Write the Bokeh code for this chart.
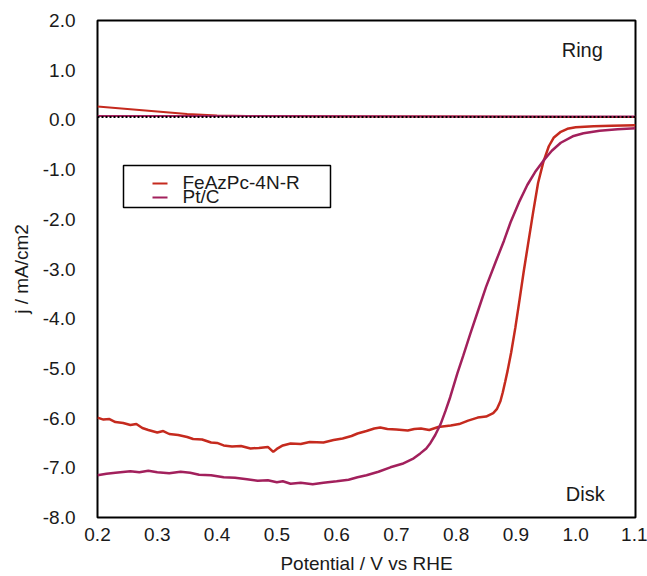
from bokeh.plotting import figure
from bokeh.models import (Range1d, FixedTicker, NumeralTickFormatter, Label, Span,
                          BoxAnnotation)
from bokeh.embed import file_html
from bokeh.resources import INLINE

# Rotating ring-disk voltammetry: disk current and ring current vs potential
fe_disk_v = [0.200, 0.210, 0.220, 0.230, 0.243, 0.255, 0.265, 0.275, 0.285, 0.300,
             0.310, 0.320, 0.335, 0.350, 0.360, 0.375, 0.390, 0.400, 0.411, 0.425,
             0.440, 0.456, 0.470, 0.485, 0.494, 0.500, 0.510, 0.523, 0.540, 0.555,
             0.578, 0.595, 0.610, 0.625, 0.635, 0.650, 0.663, 0.673, 0.685, 0.700,
             0.719, 0.730, 0.741, 0.755, 0.770, 0.791, 0.805, 0.820, 0.836, 0.850,
             0.862, 0.868, 0.874, 0.878, 0.882, 0.886, 0.892, 0.899, 0.906, 0.913,
             0.920, 0.929, 0.937, 0.946, 0.955, 0.963, 0.975, 0.986, 1.000, 1.030,
             1.060, 1.100]
fe_disk_j = [-5.99, -6.03, -6.02, -6.08, -6.10, -6.14, -6.12, -6.20, -6.24, -6.29,
             -6.26, -6.32, -6.34, -6.38, -6.42, -6.43, -6.49, -6.50, -6.55, -6.57,
             -6.56, -6.61, -6.60, -6.58, -6.68, -6.62, -6.55, -6.51, -6.52, -6.48,
             -6.49, -6.44, -6.41, -6.36, -6.31, -6.26, -6.21, -6.19, -6.22, -6.23,
             -6.25, -6.22, -6.21, -6.24, -6.18, -6.15, -6.12, -6.05, -5.99, -5.97,
             -5.90, -5.82, -5.66, -5.48, -5.27, -5.05, -4.68, -4.18, -3.62, -3.05,
             -2.52, -1.84, -1.27, -0.84, -0.53, -0.36, -0.24, -0.18, -0.15, -0.13,
             -0.12, -0.11]

pt_disk_v = [0.200, 0.215, 0.230, 0.255, 0.270, 0.285, 0.300, 0.320, 0.339, 0.355,
             0.370, 0.390, 0.411, 0.430, 0.450, 0.468, 0.485, 0.500, 0.510, 0.523,
             0.540, 0.560, 0.578, 0.600, 0.620, 0.635, 0.650, 0.670, 0.690, 0.710,
             0.729, 0.740, 0.750, 0.757, 0.765, 0.774, 0.782, 0.790, 0.802, 0.812,
             0.824, 0.836, 0.850, 0.866, 0.880, 0.891, 0.905, 0.919, 0.932, 0.946,
             0.960, 0.975, 0.995, 1.013, 1.040, 1.070, 1.100]
pt_disk_j = [-7.15, -7.12, -7.10, -7.07, -7.09, -7.06, -7.09, -7.11, -7.08, -7.10,
             -7.14, -7.15, -7.19, -7.20, -7.23, -7.26, -7.25, -7.29, -7.27, -7.32,
             -7.30, -7.33, -7.30, -7.27, -7.24, -7.19, -7.15, -7.08, -6.99, -6.92,
             -6.81, -6.71, -6.61, -6.50, -6.34, -6.12, -5.86, -5.58, -5.10, -4.74,
             -4.29, -3.86, -3.36, -2.86, -2.43, -2.06, -1.66, -1.31, -1.05, -0.82,
             -0.62, -0.46, -0.33, -0.27, -0.22, -0.19, -0.17]

fe_ring_v = [0.20, 0.25, 0.30, 0.35, 0.40, 0.45, 0.60, 0.80, 1.00, 1.10]
fe_ring_j = [0.27, 0.22, 0.17, 0.12, 0.09, 0.08, 0.07, 0.07, 0.06, 0.06]

pt_ring_v = [0.20, 0.50, 0.80, 1.10]
pt_ring_j = [0.08, 0.08, 0.07, 0.07]

baseline_j = 0.06

x_ticks = [0.2, 0.3, 0.4, 0.5, 0.6, 0.7, 0.8, 0.9, 1.0, 1.1]
y_ticks = [2, 1, 0, -1, -2, -3, -4, -5, -6, -7, -8]

series_names = ["FeAzPc-4N-R", "Pt/C"]

FE_COLOR = "#c52a1e"
PT_COLOR = "#a2205c"
FONT = "Liberation Sans"
TEXT = "#1a1a1a"

p = figure(width=647, height=576, output_backend="svg", toolbar_location=None,
           x_range=Range1d(0.2, 1.1), y_range=Range1d(-8, 2),
           min_border_left=97, min_border_right=12, min_border_top=20, min_border_bottom=59)

p.background_fill_color = "white"
p.border_fill_color = "white"
p.outline_line_color = "black"
p.outline_line_width = 2
p.xgrid.visible = False
p.ygrid.visible = False

for ax in (p.xaxis, p.yaxis):
    ax.axis_line_color = None
    ax.major_tick_line_color = None
    ax.minor_tick_line_color = None
    ax.major_tick_out = 0
    ax.major_tick_in = 0
    ax.minor_tick_out = 0
    ax.minor_tick_in = 0
    ax.major_label_text_font = FONT
    ax.major_label_text_font_size = "19px"
    ax.major_label_text_color = TEXT
    ax.axis_label_text_font = FONT
    ax.axis_label_text_font_size = "19px"
    ax.axis_label_text_font_style = "normal"
    ax.axis_label_text_color = TEXT
    ax.formatter = NumeralTickFormatter(format="0.0")

p.xaxis.ticker = FixedTicker(ticks=x_ticks)
p.yaxis.ticker = FixedTicker(ticks=y_ticks)
p.xaxis.major_label_standoff = 10
p.yaxis.major_label_standoff = 22
p.xaxis.axis_label = "Potential / V vs RHE"
p.yaxis.axis_label = "j / mA/cm2"
p.xaxis.axis_label_standoff = 9
p.yaxis.axis_label_standoff = 8

# ring currents
p.line(fe_ring_v, fe_ring_j, line_color=FE_COLOR, line_width=2)
p.line(pt_ring_v, pt_ring_j, line_color=PT_COLOR, line_width=2)
p.add_layout(Span(location=baseline_j, dimension="width", line_color="black",
                  line_width=2, line_dash="2 2"))

# disk currents
p.line(fe_disk_v, fe_disk_j, line_color=FE_COLOR, line_width=2.5)
p.line(pt_disk_v, pt_disk_j, line_color=PT_COLOR, line_width=2.5)

p.add_layout(Label(x=1.011, y=1.40, text="Ring", text_align="center", text_baseline="middle",
                   text_font=FONT, text_font_size="20px", text_color=TEXT))
p.add_layout(Label(x=1.016, y=-7.52, text="Disk", text_align="center", text_baseline="middle",
                   text_font=FONT, text_font_size="20px", text_color=TEXT))

# legend box, drawn in frame pixels (origin at the frame's lower-left corner)
p.add_layout(BoxAnnotation(left=26, right=233, bottom=310, top=352,
                           left_units="screen", right_units="screen",
                           bottom_units="screen", top_units="screen",
                           fill_color="white", fill_alpha=1,
                           line_color="black", line_width=1.5, line_alpha=1))
for row, (name, color) in enumerate(zip(series_names, [FE_COLOR, PT_COLOR])):
    yc = 334 - 14 * row
    p.add_layout(BoxAnnotation(left=55, right=70, bottom=yc - 1, top=yc + 1,
                               left_units="screen", right_units="screen",
                               bottom_units="screen", top_units="screen",
                               fill_color=color, fill_alpha=1, line_alpha=0))
    p.add_layout(Label(x=85, y=yc + 1, x_units="screen", y_units="screen", text=name,
                       text_align="left", text_baseline="middle",
                       text_font=FONT, text_font_size="19px", text_color=TEXT))

open("out.html", "w").write(file_html(p, INLINE))
